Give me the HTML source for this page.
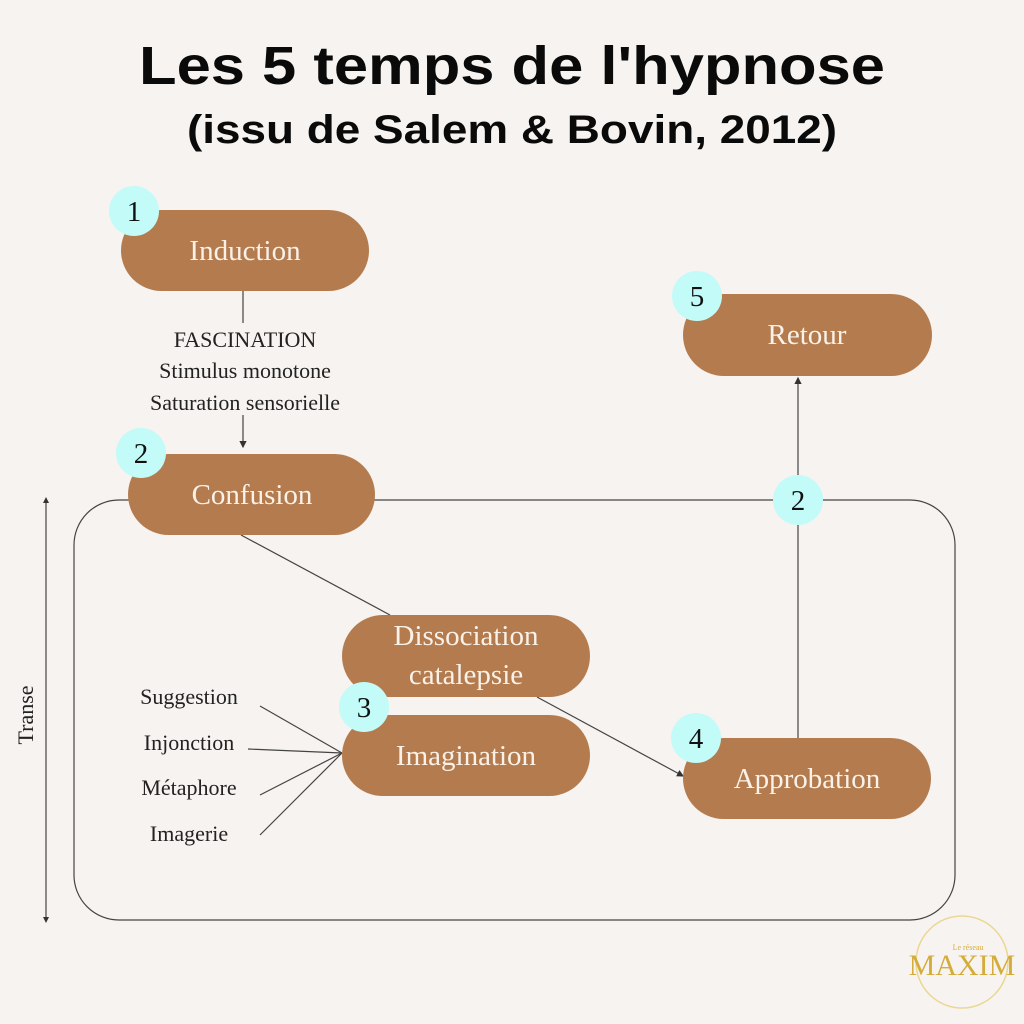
<!DOCTYPE html>
<html><head><meta charset="utf-8"><style>
html,body{margin:0;padding:0;background:#f7f3f0;}
svg{display:block;}
.t{font-family:"Liberation Serif",serif;fill:#faf1e8;font-size:29px;text-anchor:middle;}
.l{font-family:"Liberation Serif",serif;fill:#222;font-size:22px;text-anchor:middle;}
.n{font-family:"Liberation Serif",serif;fill:#111;font-size:29px;text-anchor:middle;}
</style></head><body>
<svg width="1024" height="1024" viewBox="0 0 1024 1024" xmlns="http://www.w3.org/2000/svg">
<defs><marker id="a" markerWidth="6" markerHeight="6" refX="5" refY="3" orient="auto"><path d="M0,0 L6,3 L0,6 z" fill="#333"/></marker></defs>
<rect width="1024" height="1024" fill="#f7f3f0"/>
<text x="512" y="84" text-anchor="middle" font-family="'Liberation Sans',sans-serif" font-weight="bold" font-size="54" textLength="746" lengthAdjust="spacingAndGlyphs" fill="#0a0a0a">Les 5 temps de l'hypnose</text>
<text x="512" y="143" text-anchor="middle" font-family="'Liberation Sans',sans-serif" font-weight="bold" font-size="40" textLength="650" lengthAdjust="spacingAndGlyphs" fill="#0a0a0a">(issu de Salem &amp; Bovin, 2012)</text>
<g stroke="#444" stroke-width="1.2" fill="none">
<rect x="74" y="500" width="881" height="420" rx="45"/>
<line x1="243" y1="291" x2="243" y2="323"/>
<line x1="243" y1="415" x2="243" y2="447" marker-end="url(#a)"/>
<line x1="241" y1="535" x2="390" y2="615"/>
<line x1="537" y1="697" x2="683" y2="776" marker-end="url(#a)"/>
<line x1="798" y1="738" x2="798" y2="378" marker-end="url(#a)"/>
<line x1="46" y1="500" x2="46" y2="920"/>
<line x1="260" y1="706" x2="342" y2="753"/>
<line x1="248" y1="749" x2="342" y2="753"/>
<line x1="260" y1="795" x2="342" y2="753"/>
<line x1="260" y1="835" x2="342" y2="753"/>
</g>
<path d="M43,503 L46,497 L49,503 z M43,917 L46,923 L49,917 z" fill="#333"/>
<g fill="#b47c4e">
<rect x="121" y="210" width="248" height="81" rx="40.5"/>
<rect x="683" y="294" width="249" height="82" rx="41"/>
<rect x="128" y="454" width="247" height="81" rx="40.5"/>
<rect x="342" y="615" width="248" height="82" rx="41"/>
<rect x="342" y="715" width="248" height="81" rx="40.5"/>
<rect x="683" y="738" width="248" height="81" rx="40.5"/>
</g>
<text class="t" x="245" y="260">Induction</text>
<text class="t" x="807" y="344">Retour</text>
<text class="t" x="252" y="504">Confusion</text>
<text class="t" x="466" y="645">Dissociation</text>
<text class="t" x="466" y="684">catalepsie</text>
<text class="t" x="466" y="765">Imagination</text>
<text class="t" x="807" y="788">Approbation</text>
<g fill="#c2fbf8">
<circle cx="134" cy="211" r="25"/><circle cx="697" cy="296" r="25"/>
<circle cx="141" cy="453" r="25"/><circle cx="798" cy="500" r="25"/>
<circle cx="364" cy="707" r="25"/><circle cx="696" cy="738" r="25"/>
</g>
<text class="n" x="134" y="221">1</text><text class="n" x="697" y="306">5</text>
<text class="n" x="141" y="463">2</text><text class="n" x="798" y="510">2</text>
<text class="n" x="364" y="717">3</text><text class="n" x="696" y="748">4</text>
<text class="l" x="245" y="347">FASCINATION</text>
<text class="l" x="245" y="378">Stimulus monotone</text>
<text class="l" x="245" y="410">Saturation sensorielle</text>
<text class="l" x="189" y="704">Suggestion</text>
<text class="l" x="189" y="750">Injonction</text>
<text class="l" x="189" y="795">Métaphore</text>
<text class="l" x="189" y="841">Imagerie</text>
<text class="l" transform="translate(33,715) rotate(-90)">Transe</text>
<circle cx="962" cy="962" r="46" fill="none" stroke="#e8cf7a" stroke-width="1.5" opacity="0.8"/>
<text x="962" y="975" text-anchor="middle" font-family="'Liberation Serif',serif" font-size="30" fill="#d4ac3a">MAXIM</text>
<text x="968" y="950" text-anchor="middle" font-family="'Liberation Serif',serif" font-size="8" fill="#d4ac3a">Le réseau</text>
</svg>
</body></html>
